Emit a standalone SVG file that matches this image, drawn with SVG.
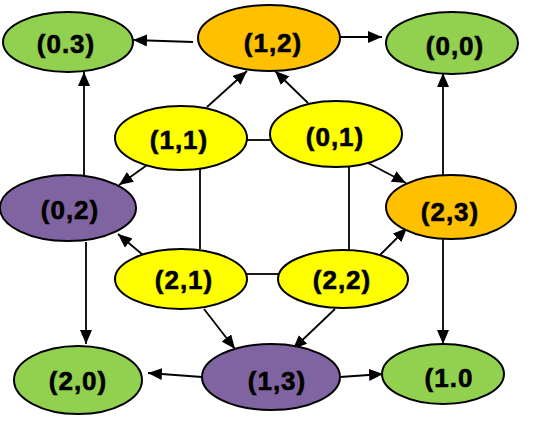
<svg xmlns="http://www.w3.org/2000/svg" width="533" height="422" viewBox="0 0 533 422">
<defs>
<style>
.n ellipse{stroke:#000;stroke-width:2}
.g{fill:#92D050}.o{fill:#FFC000}.y{fill:#FFFF00}.p{fill:#8064A2}
.n text{font-family:"Liberation Sans",Arial,sans-serif;font-weight:bold;font-size:26px;letter-spacing:1px;text-anchor:middle;fill:#000;stroke:#000;stroke-width:0.6}
.e line{stroke:#000;stroke-width:1.8}
.a{marker-end:url(#ah)}
</style>
<marker id="ah" markerUnits="userSpaceOnUse" markerWidth="14" markerHeight="12" viewBox="0 0 14 12" refX="14" refY="6" orient="auto">
<path d="M0,0 L14,6 L0,12 z" fill="#000"/>
</marker>
</defs>
<g id="connectors" class="e">
<line class="a" x1="193" y1="42" x2="133" y2="40"/>
<line class="a" x1="340" y1="37" x2="382" y2="37"/>
<line class="a" x1="207" y1="107" x2="247" y2="71"/>
<line class="a" x1="308" y1="103" x2="275" y2="71"/>
<line class="a" x1="84" y1="176" x2="84" y2="72"/>
<line class="a" x1="443" y1="175" x2="443" y2="73"/>
<line class="a" x1="150" y1="163" x2="119" y2="185"/>
<line class="a" x1="368" y1="163" x2="406" y2="183"/>
<line class="a" x1="143" y1="255" x2="118" y2="234"/>
<line class="a" x1="380" y1="255" x2="407" y2="228"/>
<line class="a" x1="86" y1="242" x2="86" y2="344"/>
<line class="a" x1="443" y1="239" x2="443" y2="344"/>
<line class="a" x1="204" y1="309" x2="235" y2="349"/>
<line class="a" x1="335" y1="309" x2="293" y2="349"/>
<line class="a" x1="202" y1="377" x2="148" y2="373"/>
<line class="a" x1="340" y1="377" x2="383" y2="374"/>
<line x1="247" y1="140" x2="270" y2="140"/>
<line x1="200" y1="169" x2="200" y2="249"/>
<line x1="349" y1="167" x2="349" y2="250"/>
<line x1="247" y1="274" x2="278" y2="274"/>
</g>
<g id="n03" class="n"><ellipse class="g" cx="68" cy="42" rx="65" ry="30"/><text x="66" y="53">(0.3)</text></g>
<g id="n12" class="n"><ellipse class="o" cx="269" cy="38" rx="71" ry="33"/><text x="273" y="52">(1,2)</text></g>
<g id="n00" class="n"><ellipse class="g" cx="452" cy="43" rx="66" ry="31"/><text x="455" y="55">(0,0)</text></g>
<g id="n11" class="n"><ellipse class="y" cx="181" cy="138" rx="66" ry="32"/><text x="179" y="149">(1,1)</text></g>
<g id="n01" class="n"><ellipse class="y" cx="336" cy="134" rx="66" ry="33"/><text x="335" y="146">(0,1)</text></g>
<g id="n02" class="n"><ellipse class="p" cx="68" cy="208" rx="68" ry="33"/><text x="70" y="219">(0,2)</text></g>
<g id="n23" class="n"><ellipse class="o" cx="451" cy="207" rx="65" ry="32"/><text x="450" y="221">(2,3)</text></g>
<g id="n21" class="n"><ellipse class="y" cx="181" cy="279" rx="66" ry="30"/><text x="184" y="289">(2,1)</text></g>
<g id="n22" class="n"><ellipse class="y" cx="343" cy="279" rx="65" ry="29"/><text x="342" y="289">(2,2)</text></g>
<g id="n20" class="n"><ellipse class="g" cx="78" cy="380" rx="64" ry="34"/><text x="78" y="390">(2,0)</text></g>
<g id="n13" class="n"><ellipse class="p" cx="271" cy="377" rx="69" ry="33"/><text x="277" y="390">(1,3)</text></g>
<g id="n10" class="n"><ellipse class="g" cx="443" cy="374" rx="61" ry="30"/><text x="449" y="387">(1.0</text></g>
</svg>
